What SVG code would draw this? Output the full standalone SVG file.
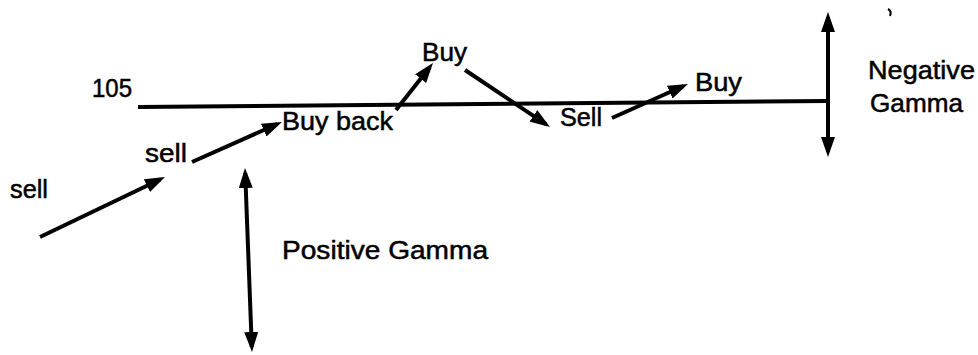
<svg xmlns="http://www.w3.org/2000/svg" width="978" height="355" viewBox="0 0 978 355">
<style>
text { font-family: "Liberation Sans", Arial, sans-serif; font-size: 25px; fill: #000; stroke: #000; stroke-width: 0.5; }
.ln { stroke: #000; stroke-width: 4; fill: none; }
.ar { marker-end: url(#ah); }
.dbl { marker-start: url(#ah); marker-end: url(#ah); }
</style>
<defs>
<marker id="ah" markerUnits="userSpaceOnUse" markerWidth="20" markerHeight="14" refX="15" refY="7" orient="auto-start-reverse" viewBox="0 0 20 14">
<path d="M0,0 L20,7 L0,14 z" fill="#000"/>
</marker>
</defs>
<rect width="978" height="355" fill="#fff"/>
<g id="connectors">
<line class="ln" x1="138" y1="107" x2="828" y2="101" stroke-width="4.5"/>
<line class="ln ar" x1="40" y1="237" x2="160.5" y2="179.2"/>
<line class="ln ar" x1="192" y1="162" x2="277.4" y2="124"/>
<line class="ln ar" x1="396" y1="110" x2="429.9" y2="66.9"/>
<line class="ln ar" x1="465" y1="70" x2="545.8" y2="124.2"/>
<line class="ln ar" x1="612" y1="118" x2="683.4" y2="86"/>
<line class="ln dbl" x1="828" y1="17" x2="828" y2="152"/>
<line class="ln dbl" x1="245.2" y1="173" x2="251.8" y2="347"/>
</g>
<path d="M888,9 q4,2 2,7" stroke="#000" stroke-width="2" fill="none"/>
<g id="label-105"><text x="92" y="97" textLength="40" lengthAdjust="spacingAndGlyphs">105</text></g>
<g id="node-sell1"><text x="10" y="198" textLength="38" lengthAdjust="spacingAndGlyphs">sell</text></g>
<g id="node-sell2"><text x="145" y="162" textLength="42" lengthAdjust="spacingAndGlyphs">sell</text></g>
<g id="node-buyback"><text x="282" y="130" textLength="111" lengthAdjust="spacingAndGlyphs">Buy back</text></g>
<g id="node-buy1"><text x="422" y="61" textLength="45" lengthAdjust="spacingAndGlyphs">Buy</text></g>
<g id="node-sell3"><text x="560" y="126" textLength="42" lengthAdjust="spacingAndGlyphs">Sell</text></g>
<g id="node-buy2"><text x="695" y="91" textLength="47" lengthAdjust="spacingAndGlyphs">Buy</text></g>
<g id="label-negative"><text x="868" y="79" textLength="107" lengthAdjust="spacingAndGlyphs">Negative</text><text x="870" y="112" textLength="93" lengthAdjust="spacingAndGlyphs">Gamma</text></g>
<g id="label-positive"><text x="282" y="259" textLength="206" lengthAdjust="spacingAndGlyphs">Positive Gamma</text></g>
</svg>
